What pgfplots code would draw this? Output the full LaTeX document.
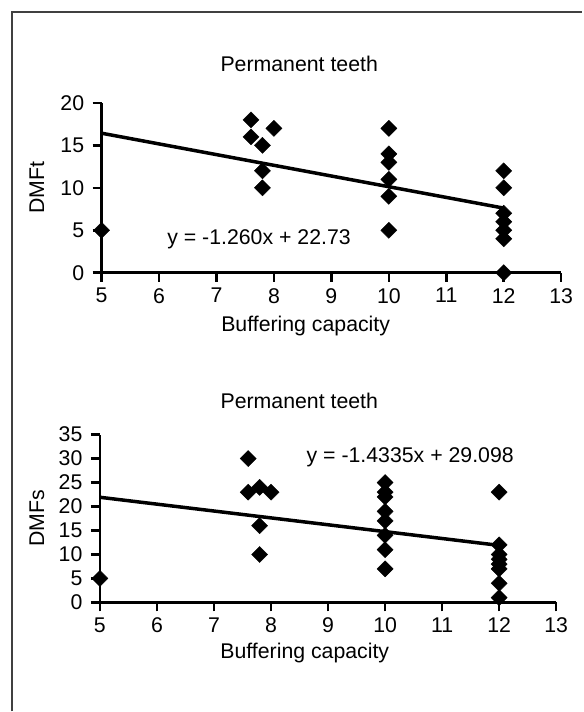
\documentclass[border=0pt]{standalone}
\usepackage{fontspec}
\setmainfont{Liberation Sans}
\usepackage{pgfplots}
\pgfplotsset{compat=1.18}
\newcommand\chartfont{\fontsize{21.3bp}{25bp}\selectfont}
\pgfplotsset{
  mystyle/.style={
    scale only axis,
    axis x line=bottom, axis y line=left,
    axis line style={-, line width=2.6bp, black},
    tick style={line width=2.6bp, black},
    tick align=outside, major tick length=9bp,
    xmin=5, xmax=13, xtick={5,...,13},
    clip=false,
    font=\chartfont,
    /pgf/number format/assume math mode=true,
    xticklabel style={yshift=-3bp},
    yticklabel style={xshift=-5bp},
    xlabel={Buffering capacity},
    title={Permanent teeth},
  },
  dots/.style={only marks, mark=square*, mark size=5.7bp, mark options={rotate=45, fill=black, draw=black}},
  trend/.style={no marks, line width=3.5bp, black},
}
\begin{document}
\begin{tikzpicture}
\fill[white] (0bp,0bp) rectangle (583bp,712bp);
\draw[line width=1.3bp, black!75] (12bp,0bp) -- (12bp,700bp) -- (583bp,700bp);

% Top: DMFt
\begin{axis}[mystyle,
  at={(101.7bp,439bp)}, anchor=south west,
  width=460bp, height=170bp,
  ymin=0, ymax=20, ytick={0,5,...,20},
  ylabel={DMFt},
  ylabel style={at={(axis description cs:-0.1407,0.5)}, anchor=center},
  xlabel style={at={(axis description cs:0.444,-0.315)}, anchor=center},
  title style={at={(axis description cs:0.43,1.194)}, anchor=center},
]
\addplot[dots] coordinates {
 (5,5)
 (7.6,18) (7.6,16)
 (7.8,15) (7.8,12) (7.8,10)
 (8,17)
 (10,17) (10,14) (10,13) (10,11) (10,9) (10,5)
 (12,12) (12,10) (12,7) (12,6) (12,5) (12,4) (12,0)
};
\addplot[trend] coordinates {(5,16.43) (12,7.61)};
\node[font=\chartfont] at (axis cs:7.74,3.9) {y = -1.260x + 22.73};
\end{axis}

% Bottom: DMFs
\begin{axis}[mystyle,
  at={(100bp,109bp)}, anchor=south west,
  width=456.7bp, height=168bp,
  ymin=0, ymax=35, ytick={0,5,...,35},
  ylabel={DMFs},
  ylabel style={at={(axis description cs:-0.1380,0.5)}, anchor=center},
  xlabel style={at={(axis description cs:0.449,-0.300)}, anchor=center},
  title style={at={(axis description cs:0.437,1.167)}, anchor=center},
]
\addplot[dots] coordinates {
 (5,5)
 (7.6,30) (7.6,23)
 (7.8,24) (7.8,16) (7.8,10)
 (8,23)
 (10,25) (10,23) (10,22) (10,19) (10,17) (10,14) (10,11) (10,7)
 (12,23) (12,12) (12,10) (12,9) (12,8) (12,7) (12,4) (12,1)
};
\addplot[trend] coordinates {(5,21.93) (12,11.90)};
\node[font=\chartfont] at (axis cs:10.44,30.2) {y = -1.4335x + 29.098};
\end{axis}
\end{tikzpicture}
\end{document}
